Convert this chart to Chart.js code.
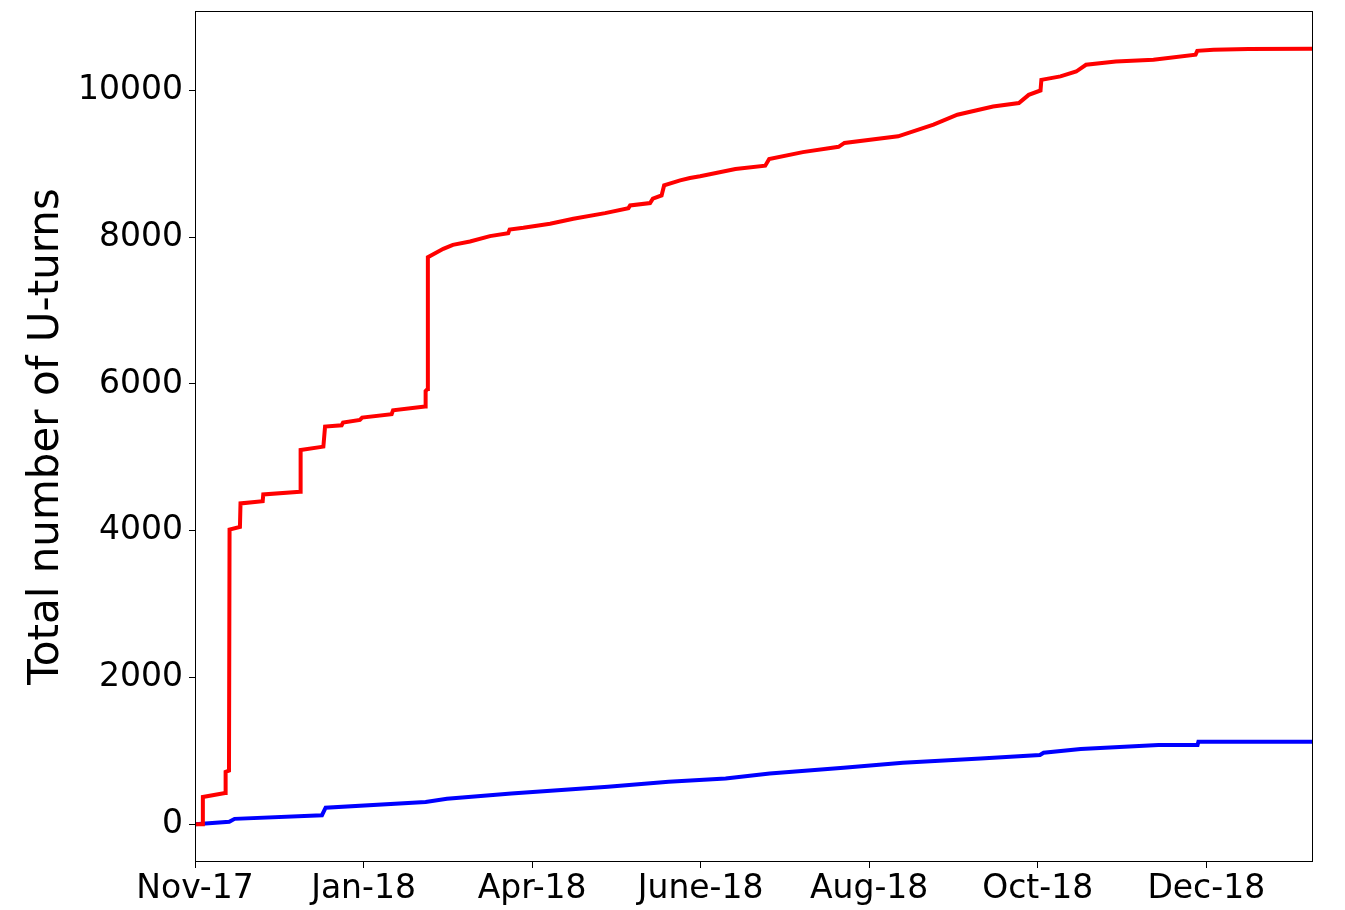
<!DOCTYPE html>
<html>
<head>
<meta charset="utf-8">
<script src="https://cdn.jsdelivr.net/npm/chart.js@4/dist/chart.umd.min.js"></script>
<style>
  html, body { margin: 0; padding: 0; background: #fff; }
  #wrap { width: 1345px; height: 910px; }
</style>
</head>
<body>
<div id="wrap"><canvas id="c" width="1345" height="910"></canvas></div>
<script>
// ---- data (x = days since Nov-17, y = cumulative U-turns) ----
const redDays   = [0, 2.8, 2.8, 10.7, 10.9, 12.1, 12.3, 16.0, 16.2, 24.1, 24.3, 37.4, 37.6, 45.7, 46.3, 52.2, 52.7, 58.7, 59.5, 70.0, 70.5, 81.9, 82.1, 82.8, 82.9, 88.4, 91.8, 97.9, 105.0, 111.5, 112.0, 116.9, 126.4, 134.7, 146.0, 154.3, 154.9, 162.0, 163.0, 166.1, 167.0, 172.7, 176.2, 179.8, 192.4, 203.0, 204.4, 216.4, 229.1, 231.2, 250.3, 262.9, 271.4, 284.1, 293.3, 296.8, 301.0, 301.3, 308.1, 313.7, 317.2, 327.8, 341.2, 356.2, 356.8, 362.6, 375.0, 398.0];
const redValues = [0, 0, 372, 426, 713, 730, 4016, 4053, 4372, 4403, 4495, 4532, 5100, 5146, 5419, 5437, 5474, 5510, 5542, 5587, 5642, 5692, 5904, 5930, 7728, 7842, 7896, 7941, 8015, 8056, 8105, 8128, 8183, 8251, 8328, 8396, 8433, 8465, 8525, 8570, 8706, 8774, 8806, 8830, 8930, 8975, 9065, 9160, 9232, 9285, 9375, 9535, 9670, 9782, 9828, 9940, 10000, 10145, 10192, 10258, 10350, 10395, 10420, 10488, 10540, 10555, 10565, 10567];
const blueDays   = [0, 12.2, 14.1, 45.2, 46.5, 82.1, 89.7, 112.6, 147.0, 168.6, 188.9, 204.6, 230.9, 252.0, 279.7, 300.8, 302.1, 315.3, 343.0, 356.9, 357.2, 398.0];
const blueValues = [0, 32, 73, 123, 225, 303, 346, 419, 510, 578, 624, 691, 768, 837, 896, 943, 974, 1025, 1079, 1079, 1124, 1124];
const xTickValues = [0, 60, 120, 180, 240, 300, 360];
const xTickLabels = ['Nov-17', 'Jan-18', 'Apr-18', 'June-18', 'Aug-18', 'Oct-18', 'Dec-18'];
const yTickValues = [0, 2000, 4000, 6000, 8000, 10000];
const yLabel = 'Total number of U-turns';

const redData = redDays.map((d, i) => ({ x: d, y: redValues[i] }));
const blueData = blueDays.map((d, i) => ({ x: d, y: blueValues[i] }));

const frame = {
  id: 'frame',
  afterDraw(chart) {
    const a = chart.chartArea, ctx = chart.ctx;
    ctx.save();
    ctx.strokeStyle = '#000';
    ctx.lineWidth = 1;
    ctx.strokeRect(Math.round(a.left) + 0.5, Math.round(a.top) + 0.5,
                   Math.round(a.right - a.left) - 1, Math.round(a.bottom - a.top) - 1);
    ctx.restore();
  }
};

new Chart(document.getElementById('c'), {
  type: 'line',
  data: {
    datasets: [
      { data: redData, borderColor: '#ff0000', borderWidth: 4, pointRadius: 0, tension: 0, fill: false },
      { data: blueData, borderColor: '#0000ff', borderWidth: 4, pointRadius: 0, tension: 0, fill: false }
    ]
  },
  options: {
    responsive: false,
    animation: false,
    events: [],
    layout: { padding: { top: 11, right: 32, left: 0, bottom: 0 } },
    plugins: { legend: { display: false }, tooltip: { enabled: false } },
    scales: {
      x: {
        type: 'linear',
        min: 0, max: 398,
        afterBuildTicks(s) { s.ticks = xTickValues.map(v => ({ value: v })); },
        afterFit(s) { s.height = 48; s.paddingLeft = 0; s.paddingRight = 0; },
        grid: { drawOnChartArea: false, drawTicks: true, tickLength: 6, color: '#000' },
        border: { display: false },
        ticks: {
          color: '#000', padding: 2, maxRotation: 0, autoSkip: false,
          font: { family: 'DejaVu Sans', size: 33 },
          callback: (v) => { const i = xTickValues.indexOf(v); return i >= 0 ? xTickLabels[i] : ''; }
        }
      },
      y: {
        type: 'linear',
        min: -515, max: 11083,
        afterBuildTicks(s) { s.ticks = yTickValues.map(v => ({ value: v })); },
        afterFit(s) { s.width = 195; s.paddingTop = 0; s.paddingBottom = 0; },
        grid: { drawOnChartArea: false, drawTicks: true, tickLength: 6, color: '#000' },
        border: { display: false },
        title: {
          display: true, text: yLabel, color: '#000',
          font: { family: 'DejaVu Sans', size: 42 },
          padding: { top: 22, bottom: 0 }
        },
        ticks: {
          color: '#000', padding: 6, autoSkip: false,
          font: { family: 'DejaVu Sans', size: 33 },
          callback: (v) => String(v)
        }
      }
    }
  },
  plugins: [frame]
});
</script>
</body>
</html>
